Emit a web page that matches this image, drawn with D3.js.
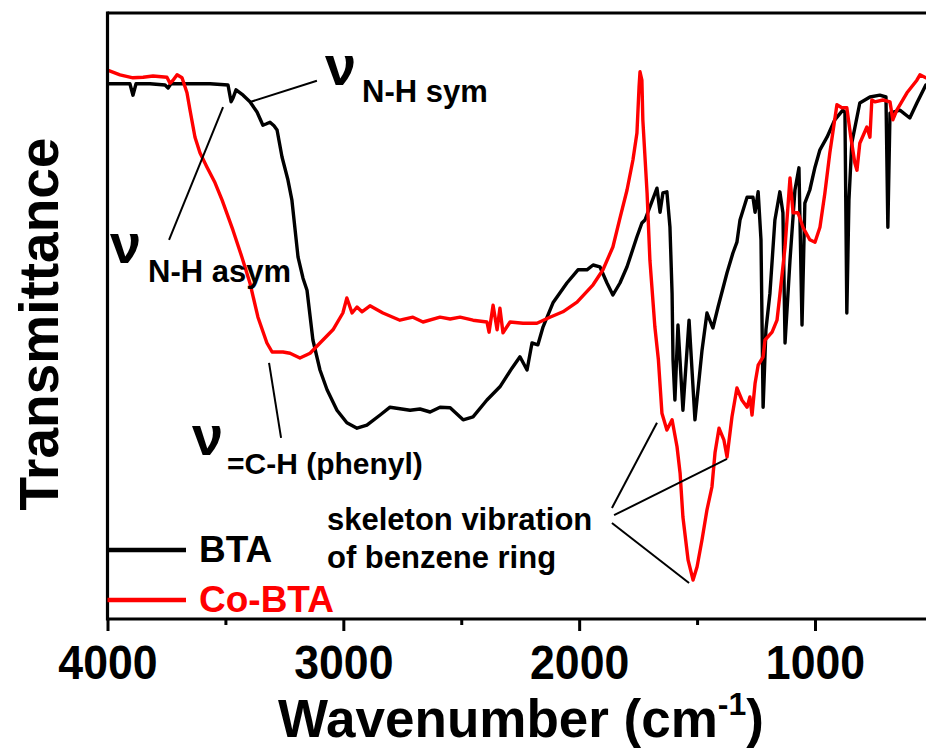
<!DOCTYPE html>
<html>
<head>
<meta charset="utf-8">
<script src="https://cdn.jsdelivr.net/npm/d3@7"></script>
<style>
  html, body { margin: 0; padding: 0; background: #fff; }
  svg { display: block; }
  text { font-family: "Liberation Sans", Arial, sans-serif; font-weight: bold; }
</style>
</head>
<body>
<svg id="chart" width="926" height="755"></svg>
<script>
// FTIR spectra: wavenumber (cm^-1) and transmittance (arbitrary units)
const btaWavenumber = [4000,3947,3905,3892,3879,3820,3756,3743,3731,3650,3565,3489,3476,3468,3455,3425,3396,3366,3341,3328,3311,3294,3281,3260,3235,3218,3192,3171,3154,3129,3099,3069,3027,2985,2942,2900,2844,2802,2717,2675,2632,2590,2547,2492,2450,2391,2336,2285,2251,2221,2200,2175,2153,2111,2052,2005,1967,1941,1912,1882,1857,1827,1797,1755,1734,1721,1700,1670,1657,1645,1628,1615,1606,1602,1594,1581,1560,1534,1509,1479,1458,1433,1411,1403,1373,1348,1331,1318,1288,1263,1254,1241,1229,1220,1208,1191,1170,1149,1136,1127,1106,1085,1068,1055,1043,1022,1000,979,949,916,882,873,865,856,844,810,767,725,699,691,682,640,598,568,530];
const btaT = [89.2,89.2,89.2,87.3,89.2,89.2,89.0,88.5,89.2,89.2,89.2,89.0,86.2,86.8,88.2,87.3,86.2,84.5,82.3,82.5,82.8,82.2,81.5,77.0,73.2,69.8,60.3,56.8,54.8,46.5,41.5,38.2,34.8,32.7,31.8,32.3,34.0,35.3,34.8,35.0,34.5,35.3,35.2,33.2,33.7,36.5,38.7,41.8,43.7,41.5,46.0,45.7,48.7,52.7,56.0,58.2,58.2,59.0,58.7,56.0,54.0,56.0,58.7,63.7,66.0,66.5,68.7,71.8,67.8,71.0,71.2,65.3,54.3,43.2,36.5,49.0,34.8,49.8,33.2,44.8,51.0,48.5,52.0,53.2,57.7,61.0,62.8,66.5,70.3,70.3,67.8,71.2,63.2,35.3,48.2,54.3,66.5,71.2,67.7,46.0,59.8,71.5,75.2,49.0,69.3,71.5,75.3,78.2,80.3,83.2,84.8,84.5,51.0,69.8,79.3,86.0,87.0,87.3,87.0,65.3,84.3,84.8,83.5,86.0,89.0];

const coWavenumber = [4000,3947,3892,3849,3807,3748,3735,3722,3705,3684,3663,3650,3629,3608,3578,3544,3514,3468,3430,3396,3362,3324,3302,3256,3226,3184,3141,3099,3044,3002,2985,2963,2942,2921,2887,2832,2760,2705,2662,2590,2547,2505,2450,2391,2382,2365,2348,2336,2323,2293,2238,2179,2124,2069,2009,1941,1899,1857,1827,1797,1772,1755,1746,1742,1734,1730,1712,1700,1679,1664,1649,1628,1606,1585,1572,1560,1538,1517,1500,1479,1458,1437,1424,1407,1386,1373,1352,1331,1310,1288,1276,1267,1254,1241,1220,1212,1182,1161,1149,1127,1106,1093,1072,1051,1022,1000,979,958,937,907,886,865,848,831,822,810,780,767,759,746,712,682,670,653,610,568,555,530];
const coT = [91.5,90.7,90.2,90.3,90.5,90.3,89.3,89.8,90.7,90.2,87.7,84.8,80.3,77.7,75.3,72.7,69.8,64.8,60.3,56.0,50.3,46.0,44.5,44.5,44.3,43.5,44.3,46.0,48.2,51.0,53.5,51.0,52.0,51.2,52.2,51.0,49.8,50.3,49.5,50.3,50.0,50.3,49.8,49.5,47.8,52.3,48.2,51.8,47.7,49.5,49.3,49.3,50.3,51.2,52.8,55.7,58.2,62.0,66.8,71.5,76.5,81.0,88.7,91.2,89.8,83.2,71.0,59.8,48.7,43.2,34.3,31.5,33.2,28.7,24.3,17.0,9.8,6.5,8.7,13.2,18.2,22.0,27.7,31.8,29.8,27.0,33.7,38.5,36.5,35.3,37.0,34.0,39.3,42.3,43.7,46.5,47.8,49.8,54.0,62.0,73.5,67.7,67.7,65.3,63.2,62.8,65.3,71.0,77.7,85.7,85.2,85.2,80.3,76.0,74.8,79.3,82.0,80.3,86.5,86.2,86.5,86.2,83.2,84.8,87.7,89.8,90.7,90.2];

const seriesNames = ["BTA", "Co-BTA"];
const seriesColors = ["#000000", "#ff0000"];

const majorTicks = [4000, 3000, 2000, 1000];
const minorTicks = [3500, 2500, 1500];

// Band assignments: label pieces and pointer segments (wavenumber, T)
const bandLabels = ["N-H sym", "N-H asym", "=C-H (phenyl)"];
const bandPointerFrom = [[3112, 89.7], [3510, 85.3], [3315, 42.7]];
const bandPointerTo = [[3392, 86.2], [3739, 63.2], [3264, 30.2]];
const ringLabel = ["skeleton vibration", "of benzene ring"];
const ringPointerFrom = [[1861, 18.5], [1852, 17.3], [1861, 16.0]];
const ringPointerTo = [[1670, 32.7], [1373, 26.7], [1534, 6.0]];

const svg = d3.select("#chart");
const plotLeft = 107.5, plotTop = 13, plotBottom = 619, plotRight = 926;

const x = d3.scaleLinear().domain([4000, 400]).range([plotLeft, plotLeft + 3600 * 0.23583]);
const y = d3.scaleLinear().domain([0, 101]).range([plotBottom, plotTop]);

svg.append("clipPath").attr("id", "plotClip")
  .append("rect").attr("x", plotLeft).attr("y", plotTop)
  .attr("width", plotRight - plotLeft).attr("height", plotBottom - plotTop);

const line = d3.line().x(d => x(d[0])).y(d => y(d[1]));
const series = [
  d3.zip(btaWavenumber, btaT),
  d3.zip(coWavenumber, coT)
];

const plot = svg.append("g").attr("clip-path", "url(#plotClip)");
series.forEach((s, i) => {
  plot.append("path")
    .datum(s)
    .attr("d", line)
    .attr("fill", "none")
    .attr("stroke", seriesColors[i])
    .attr("stroke-width", 3.4)
    .attr("stroke-linejoin", "round")
    .attr("stroke-linecap", "round");
});

// Frame: left, top and bottom spines
const frame = svg.append("g").attr("stroke", "#000").attr("stroke-width", 3.2).attr("fill", "none");
frame.append("line").attr("x1", plotLeft).attr("x2", plotLeft).attr("y1", plotTop - 1.6).attr("y2", plotBottom + 1.6);
frame.append("line").attr("x1", plotLeft).attr("x2", plotRight).attr("y1", plotTop).attr("y2", plotTop);
frame.append("line").attr("x1", plotLeft).attr("x2", plotRight).attr("y1", plotBottom).attr("y2", plotBottom);

// Bottom axis
const axisMajor = svg.append("g").attr("transform", `translate(0,${plotBottom})`)
  .call(d3.axisBottom(x).tickValues(majorTicks).tickSize(12).tickPadding(14).tickFormat(d3.format("d")));
axisMajor.select(".domain").remove();
axisMajor.selectAll(".tick line").attr("stroke-width", 3);
axisMajor.selectAll(".tick text")
  .attr("font-size", 48).attr("font-family", "'Liberation Sans', Arial, sans-serif")
  .attr("font-weight", "bold").attr("fill", "#000")
  .attr("transform", "scale(0.93,1)");

const axisMinor = svg.append("g").attr("transform", `translate(0,${plotBottom})`)
  .call(d3.axisBottom(x).tickValues(minorTicks).tickSize(6).tickFormat(""));
axisMinor.select(".domain").remove();
axisMinor.selectAll(".tick line").attr("stroke-width", 3);

// Axis titles
const xTitle = svg.append("text").attr("x", 521).attr("y", 737)
  .attr("text-anchor", "middle").attr("font-size", 53);
xTitle.append("tspan").text("Wavenumber (cm");
xTitle.append("tspan").attr("font-size", 32).attr("dy", -22).text("-1");
xTitle.append("tspan").attr("dy", 22).text(")");

svg.append("text")
  .attr("transform", "translate(58,324) rotate(-90)")
  .attr("text-anchor", "middle").attr("font-size", 55)
  .text("Transmittance");

// Band annotations
const nuPos = [[325, 85], [110, 263], [192, 455]];
const subPos = [[362, 102], [148, 282], [227, 474]];
bandLabels.forEach((lab, i) => {
  svg.append("text").attr("x", nuPos[i][0]).attr("y", nuPos[i][1])
    .attr("font-family", "'Liberation Serif', 'Times New Roman', serif")
    .attr("font-weight", "normal").attr("font-size", 56).text("ν");
  svg.append("text").attr("x", subPos[i][0]).attr("y", subPos[i][1])
    .attr("font-size", i === 2 ? 30 : 31).text(lab);
  svg.append("line")
    .attr("x1", x(bandPointerFrom[i][0])).attr("y1", y(bandPointerFrom[i][1]))
    .attr("x2", x(bandPointerTo[i][0])).attr("y2", y(bandPointerTo[i][1]))
    .attr("stroke", "#000").attr("stroke-width", 2);
});

ringLabel.forEach((t, i) => {
  svg.append("text").attr("x", 327).attr("y", 530 + i * 38).attr("font-size", 31).text(t);
});
ringPointerFrom.forEach((p, i) => {
  svg.append("line")
    .attr("x1", x(p[0])).attr("y1", y(p[1]))
    .attr("x2", x(ringPointerTo[i][0])).attr("y2", y(ringPointerTo[i][1]))
    .attr("stroke", "#000").attr("stroke-width", 2);
});

// Legend
const legendY = [550, 600];
seriesNames.forEach((name, i) => {
  svg.append("line").attr("x1", plotLeft).attr("x2", 186)
    .attr("y1", legendY[i]).attr("y2", legendY[i])
    .attr("stroke", seriesColors[i]).attr("stroke-width", 4.5);
  svg.append("text").attr("x", 199).attr("y", legendY[i] + 12)
    .attr("font-size", 37).attr("fill", seriesColors[i]).text(name);
});
</script>
</body>
</html>
